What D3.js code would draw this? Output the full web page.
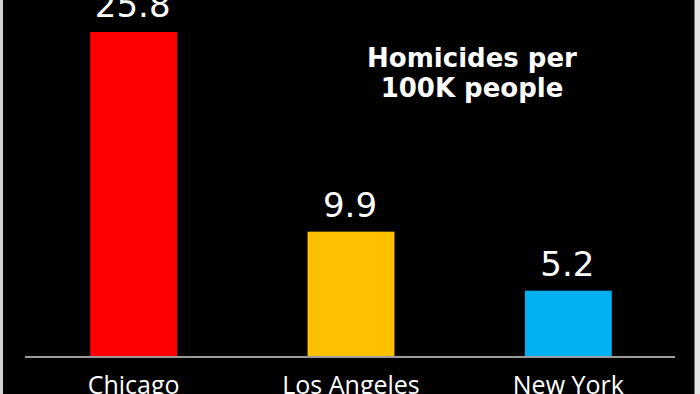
<!DOCTYPE html>
<html>
<head>
<meta charset="utf-8">
<script src="https://cdn.jsdelivr.net/npm/d3@7"></script>
<style>
  html, body { margin: 0; padding: 0; background: #000; }
  .chart { width: 700px; height: 394px; }
</style>
</head>
<body>
<div class="chart"></div>
<script>
// data
var cities = ["Chicago", "Los Angeles", "New York"];
var homicides = [25.8, 9.9, 5.2];
var barColors = ["#ff0000", "#ffc000", "#00b0f0"];
var titleLines = ["Homicides per", "100K people"];

var svgWidth = 700;
var svgHeight = 394;

var svg = d3.select(".chart")
    .append("svg")
    .attr("width", svgWidth)
    .attr("height", svgHeight);

svg.append("rect")
    .attr("width", svgWidth)
    .attr("height", svgHeight)
    .attr("fill", "#000");

// scales
var xScale = d3.scaleBand()
    .domain(cities)
    .range([25, 677])
    .paddingInner(0.6)
    .paddingOuter(0.3);

var yScale = d3.scaleLinear()
    .domain([0, d3.max(homicides)])
    .range([356, 32]);

// bars
svg.append("g").selectAll("rect")
    .data(homicides)
    .enter()
    .append("rect")
    .attr("x", (d, i) => xScale(cities[i]))
    .attr("y", d => yScale(d))
    .attr("width", xScale.bandwidth())
    .attr("height", d => yScale(0) - yScale(d))
    .attr("fill", (d, i) => barColors[i]);

// value labels
svg.append("g").selectAll("text")
    .data(homicides)
    .enter()
    .append("text")
    .attr("x", (d, i) => xScale(cities[i]) + xScale.bandwidth() / 2 - 1)
    .attr("y", d => yScale(d) - 15)
    .attr("text-anchor", "middle")
    .attr("fill", "#fff")
    .style("font-family", "'DejaVu Sans', sans-serif")
    .style("font-size", "34px")
    .text(d => d.toFixed(1));

// baseline axis
var xAxis = d3.axisBottom(xScale).tickSize(0).tickPadding(19);
var axisG = svg.append("g")
    .attr("transform", `translate(0, ${yScale(0) + 1})`)
    .call(xAxis);
axisG.select(".domain")
    .attr("d", "M25,0H675")
    .attr("stroke", "#d0d0d0")
    .attr("stroke-width", 1.6);
axisG.selectAll("text")
    .attr("fill", "#fff")
    .style("font-family", "'Open Sans', sans-serif")
    .style("font-size", "25px");

// title
svg.append("g").selectAll("text")
    .data(titleLines)
    .enter()
    .append("text")
    .attr("x", 472)
    .attr("y", (d, i) => 67 + i * 30)
    .attr("text-anchor", "middle")
    .attr("fill", "#fff")
    .style("font-family", "'DejaVu Sans', sans-serif")
    .style("font-weight", 700)
    .style("font-size", "26px")
    .text(d => d);

// frame edges
svg.append("rect").attr("x", 0).attr("y", 0).attr("width", 3).attr("height", svgHeight).attr("fill", "#d4d4d4");
svg.append("rect").attr("x", 694).attr("y", 0).attr("width", 6).attr("height", svgHeight).attr("fill", "#e6e6e6");
svg.append("rect").attr("x", 694).attr("y", 0).attr("width", 1).attr("height", svgHeight).attr("fill", "#777");
</script>
</body>
</html>
